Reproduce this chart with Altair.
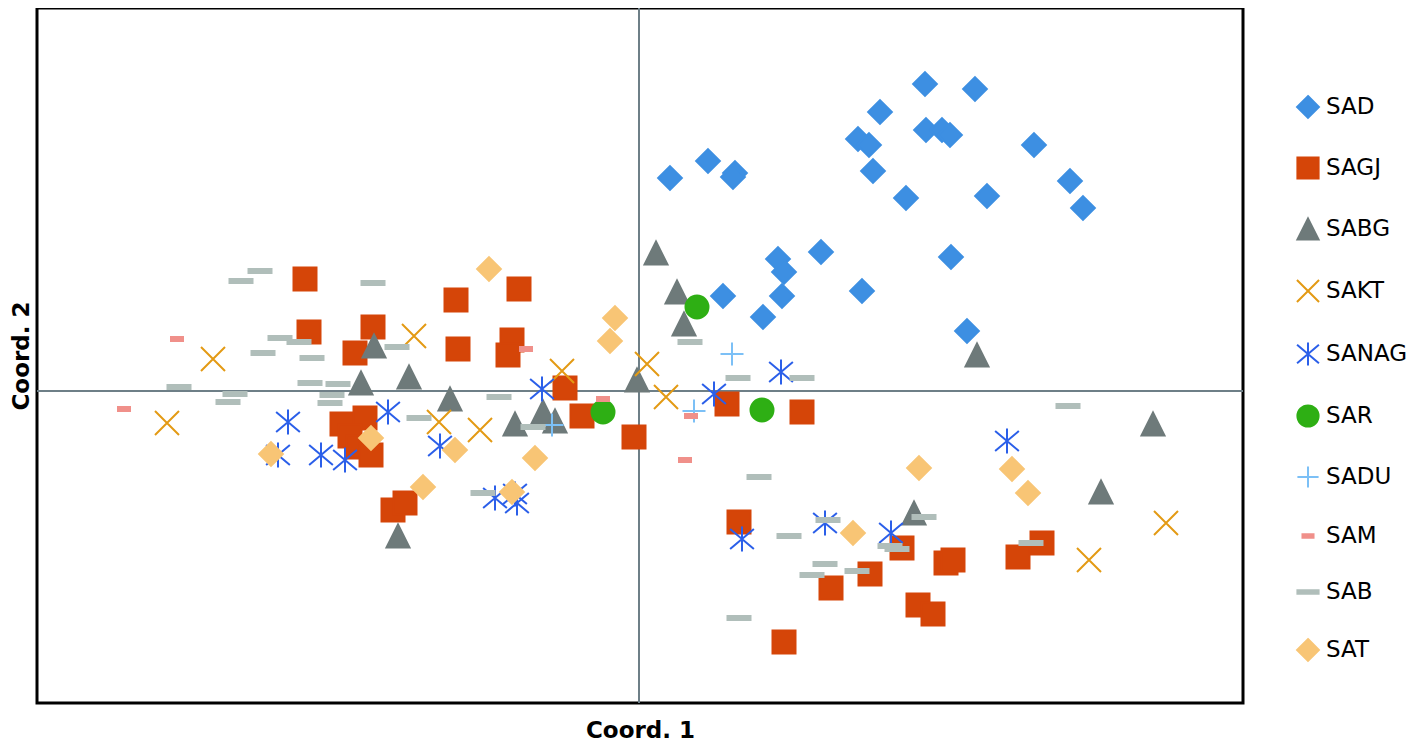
import altair as alt
import pandas as pd

series = ["SAD", "SAGJ", "SABG", "SAKT", "SANAG", "SAR", "SADU", "SAM", "SAB", "SAT"]
colors = ["#3D8FE2", "#D54508", "#6E7A7A", "#E39A14", "#2B5FE9",
          "#2EAF14", "#7CC0F6", "#F0908A", "#B0BEBA", "#F8C575"]

DIAMOND = "M0,-0.95L0.95,0L0,0.95L-0.95,0Z"
SQUARE = "M-0.92,-0.92L0.92,-0.92L0.92,0.92L-0.92,0.92Z"
TRIANGLE = "M0,-0.92L0.92,0.92L-0.92,0.92Z"
XMARK = "M-0.96,-0.96L0.96,0.96M-0.96,0.96L0.96,-0.96"
ASTER = "M0,-1L0,1M-0.95,-0.8L0.95,0.8M-0.95,0.8L0.95,-0.8"
CIRCLE = "M-0.92,0A0.92,0.92 0 1,0 0.92,0A0.92,0.92 0 1,0 -0.92,0Z"
PLUS = "M0,-0.92L0,0.92M-0.92,0L0.92,0"
DASH_S = "M-0.48,-0.16L0.48,-0.16L0.48,0.16L-0.48,0.16Z"
DASH_L = "M-0.92,-0.16L0.92,-0.16L0.92,0.16L-0.92,0.16Z"
shapes = [DIAMOND, SQUARE, TRIANGLE, XMARK, ASTER, CIRCLE, PLUS, DASH_S, DASH_L, DIAMOND]

SAD_x = [0.31, 0.69, 0.96, 0.94, 2.86, 3.36, 2.41, 2.19, 2.30, 2.87, 3.03, 3.11, 3.95, 2.34,
         2.67, 3.48, 4.31, 4.44, 1.39, 1.45, 1.82, 3.12, 0.84, 1.43, 2.23, 1.24, 3.28]
SAD_y = [2.13, 2.30, 2.18, 2.14, 3.07, 3.02, 2.79, 2.52, 2.46, 2.61, 2.61, 2.56, 2.46, 2.20,
         1.93, 1.95, 2.10, 1.83, 1.32, 1.19, 1.39, 1.34, 0.95, 0.95, 1.00, 0.74, 0.60]

SAGJ_x = [-3.34, -3.30, -2.66, -2.84, -1.83, -1.20, -1.81, -1.27, -1.31, -0.74, -0.57, -0.05,
          -2.97, -2.74, -2.89, -2.81, -2.68, -2.46, -2.34, 0.88, 1.63, 1.00, 1.92, 2.31, 2.63,
          3.07, 3.14, 2.79, 2.94, 3.79, 4.03, 1.45]
SAGJ_y = [1.12, 0.59, 0.64, 0.38, 0.91, 1.02, 0.42, 0.51, 0.36, 0.03, -0.25, -0.46,
          -0.33, -0.27, -0.45, -0.56, -0.64, -1.19, -1.12, -0.13, -0.21, -1.31, -1.97, -1.83, -1.57,
          -1.72, -1.69, -2.14, -2.23, -1.66, -1.52, -2.51]

SABG_x = [0.17, 0.38, 0.45, 3.38, 5.14, 4.62, 2.75, -2.65, -2.78, -2.30, -1.89, -1.24, -0.96,
          -0.84, -0.02, -2.41]
SABG_y = [1.38, 0.99, 0.67, 0.36, -0.33, -1.01, -1.22, 0.45, 0.08, 0.14, -0.08, -0.33, -0.21,
          -0.30, 0.11, -1.45]

SAKT_x = [-4.26, -4.72, -2.25, -2.00, -1.59, -0.77, 0.08, 0.27, 5.27, 4.50]
SAKT_y = [0.32, -0.32, 0.55, -0.31, -0.39, 0.20, 0.27, -0.06, -1.32, -1.69]

SANAG_x = [-3.51, -3.61, -3.18, -2.94, -2.51, -1.99, -0.97, -1.44, -1.22, -1.24, 0.75, 1.42,
           1.03, 1.86, 2.52, 3.68]
SANAG_y = [-0.31, -0.64, -0.64, -0.69, -0.21, -0.55, 0.02, -1.07, -1.12, -1.03, -0.03, 0.19,
           -1.48, -1.32, -1.42, -0.50]

SAR_x = [0.58, -0.36, 1.23]
SAR_y = [0.84, -0.21, -0.19]

SADU_x = [0.93, 0.55, -0.87]
SADU_y = [0.37, -0.20, -0.34]

SAM_x = [-4.62, -5.15, -1.13, -0.36, 0.52, 0.46]
SAM_y = [0.52, -0.18, 0.42, -0.08, -0.25, -0.69]

SAB_x = [-3.79, -3.98, -2.66, -3.59, -3.40, -3.76, -3.27, -4.60, -4.04, -4.11, -3.29, -3.01,
         -3.07, -3.09, -2.42, -1.40, -2.20, -1.06, -1.56, 0.51, 0.99, 1.63, 1.20, 1.89, 1.50,
         2.85, 2.51, 2.58, 1.86, 1.73, 2.18, 1.00, 4.29, 3.92]
SAB_y = [1.20, 1.10, 1.08, 0.53, 0.49, 0.38, 0.33, 0.04, -0.03, -0.11, 0.08, 0.07,
         -0.04, -0.12, 0.44, -0.06, -0.27, -0.36, -1.02, 0.49, 0.13, 0.13, -0.86, -1.29, -1.45,
         -1.26, -1.55, -1.58, -1.73, -1.84, -1.80, -2.27, -0.15, -1.52]

SAT_x = [-1.50, -0.24, -0.29, -2.68, -1.84, -1.04, -2.16, -1.27, -3.68, 2.80, 2.14, 3.73, 3.89]
SAT_y = [1.22, 0.73, 0.50, -0.47, -0.59, -0.67, -0.96, -1.01, -0.63, -0.77, -1.42, -0.78, -1.02]

xs = [SAD_x, SAGJ_x, SABG_x, SAKT_x, SANAG_x, SAR_x, SADU_x, SAM_x, SAB_x, SAT_x]
ys = [SAD_y, SAGJ_y, SABG_y, SAKT_y, SANAG_y, SAR_y, SADU_y, SAM_y, SAB_y, SAT_y]

rows = []
for name, sx, sy in zip(series, xs, ys):
    for a, b in zip(sx, sy):
        rows.append({"series": name, "c1": a, "c2": b})
df = pd.DataFrame(rows)

x_dom = [-6.02, 6.04]
y_dom = [-3.12, 3.83]

xscale = alt.Scale(domain=x_dom, nice=False, zero=False)
yscale = alt.Scale(domain=y_dom, nice=False, zero=False)

xaxis = alt.Axis(title="Coord. 1", labels=False, ticks=False, domain=False, grid=False,
                 titleFont="DejaVu Sans", titleFontSize=23, titleFontWeight="bold",
                 titleColor="#000000", titlePadding=16)
yaxis = alt.Axis(title="Coord. 2", labels=False, ticks=False, domain=False, grid=False,
                 titleFont="DejaVu Sans", titleFontSize=23, titleFontWeight="bold",
                 titleColor="#000000", titlePadding=4)

zero_df = pd.DataFrame({"v": [0.0]})
vline = alt.Chart(zero_df).mark_rule(color="#6E7F87", strokeWidth=2).encode(
    x=alt.X("v:Q", scale=xscale, axis=xaxis)
)
hline = alt.Chart(zero_df).mark_rule(color="#6E7F87", strokeWidth=2).encode(
    y=alt.Y("v:Q", scale=yscale, axis=yaxis)
)

color_scale = alt.Scale(domain=series, range=colors)
legend = alt.Legend(title=None)

points = alt.Chart(df).mark_point(filled=True, opacity=1, size=625, strokeWidth=2).encode(
    x=alt.X("c1:Q", scale=xscale, axis=xaxis),
    y=alt.Y("c2:Q", scale=yscale, axis=yaxis),
    color=alt.Color("series:N", scale=color_scale, legend=legend),
    stroke=alt.Stroke("series:N", scale=color_scale, legend=legend),
    shape=alt.Shape("series:N", scale=alt.Scale(domain=series, range=shapes), legend=legend),
)

chart = alt.layer(vline, hline, points).properties(
    width=1206,
    height=695,
    autosize=alt.AutoSizeParams(type="none"),
    padding={"left": 29, "top": 0, "right": 165, "bottom": 38},
).configure_view(
    stroke="#000000", strokeWidth=3
).configure_legend(
    orient="none", legendX=1258, legendY=86, padding=0,
    labelFont="DejaVu Sans", labelFontSize=23, labelColor="#000000",
    symbolSize=530, symbolStrokeWidth=2, labelOffset=5, rowPadding=31,
    symbolOpacity=1,
)

chart.save("out.html", embed_options={"renderer": "svg", "actions": False})
